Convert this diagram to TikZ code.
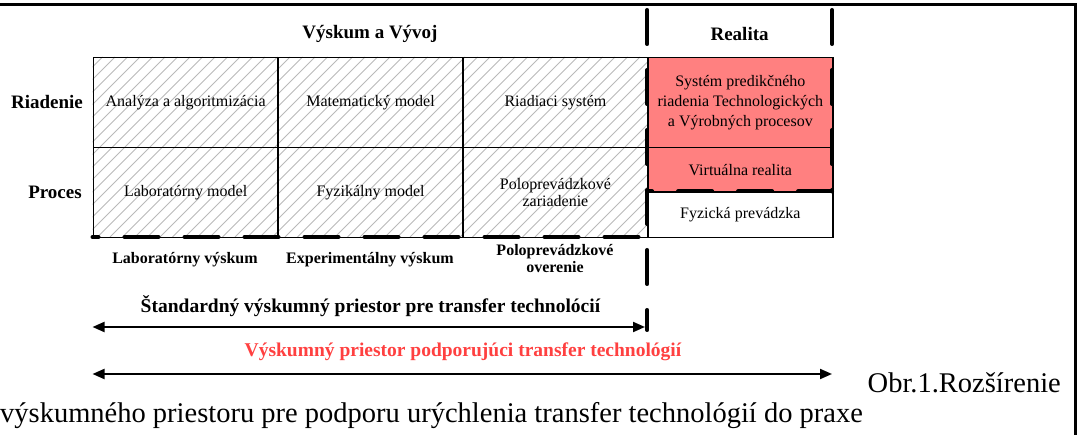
\documentclass[tikz,border=0pt]{standalone}
\usepackage{fontspec}
\setmainfont{Liberation Serif}
\usetikzlibrary{arrows.meta}
\definecolor{pinkfill}{RGB}{255,128,128}
\definecolor{redtxt}{RGB}{255,64,64}
\definecolor{hatchgray}{RGB}{185,185,185}
\begin{document}
\begin{tikzpicture}[x=1pt,y=-1pt,
  cellbox/.style={draw=black, line width=1.4pt, anchor=north west, inner sep=0pt, minimum width=184.9pt},
  celltext/.style={font=\fontsize{16}{20}\selectfont, align=center, inner sep=0pt},
  head/.style={font=\bfseries\fontsize{19}{22}\selectfont, inner sep=0pt},
  sublabel/.style={font=\bfseries\fontsize{16}{17}\selectfont, inner sep=0pt, align=center},
  bigdash/.style={line width=4pt, line cap=round, dash pattern=on 34pt off 26pt},
  spanarrow/.style={line width=2pt, {Triangle[length=12pt,width=10pt]}-{Triangle[length=12pt,width=10pt]}},
  caption/.style={font=\fontsize{28.5}{30}\selectfont, inner sep=0pt}
]
\useasboundingbox (0,0) rectangle (1079,435);
% frame
\draw[line width=3pt] (0,5) -- (1075,5) -- (1075,435);
% hatching
\begin{scope}
  \clip (92.5,57) rectangle (647.2,237);
  \foreach \i in {0,...,62}
    \draw[hatchgray, line width=0.8pt] ({-90+\i*12.5},237) -- ++(180,-180);
\end{scope}
% pink area
\fill[pinkfill] (647.2,57) rectangle (832.1,191.5);
% cells
\node[cellbox, minimum height=90pt] (c11) at (92.5,57) {};
\node[cellbox, minimum height=90pt] (c12) at (277.4,57) {};
\node[cellbox, minimum height=90pt] (c13) at (462.3,57) {};
\node[cellbox, minimum height=90pt] (c14) at (647.2,57) {};
\node[cellbox, minimum height=90pt] (c21) at (92.5,147) {};
\node[cellbox, minimum height=90pt] (c22) at (277.4,147) {};
\node[cellbox, minimum height=90pt] (c23) at (462.3,147) {};
\node[cellbox, minimum height=44.5pt] (c24) at (647.2,147) {};
\node[cellbox, minimum height=45.5pt] (c34) at (647.2,191.5) {};
% cell texts
\node[celltext] (t11) at (c11.center) {Analýza a algoritmizácia};
\node[celltext] (t12) at (c12.center) {Matematický model};
\node[celltext] (t13) at (c13.center) {Riadiaci systém};
\node[celltext] (t14) at (c14.center) {Systém predikčného\\riadenia Technologických\\a Výrobných procesov};
\node[celltext] (t21) at (c21.center) {Laboratórny model};
\node[celltext] (t22) at (c22.center) {Fyzikálny model};
\node[celltext, font=\fontsize{16}{17}\selectfont] (t23) at (c23.center) {Poloprevádzkové\\zariadenie};
\node[celltext] (t24) at (c24.center) {Virtuálna realita};
\node[celltext] (t34) at (c34.center) {Fyzická prevádzka};
% headers
\node[head] (hVV) at (370,34) {Výskum a Vývoj};
\node[head] (hR) at (739.6,34) {Realita};
\node[head] (rR) at (47,102) {Riadenie};
\node[head] (rP) at (55,192) {Proces};
% bottom labels
\node[sublabel] (bL) at (185,260) {Laboratórny výskum};
\node[sublabel] (bE) at (370,260) {Experimentálny výskum};
\node[sublabel] (bP) at (555,259) {Poloprevádzkové\\overenie};
% thick dashed borders
\coordinate (dA) at (647.2,10);
\coordinate (dB) at (647.2,330);
\coordinate (dC) at (832.1,10);
\coordinate (dD) at (832.1,191.5);
\coordinate (dE) at (647.2,191.5);
\coordinate (dF) at (647.2,237);
\coordinate (dG) at (92.5,237);
\draw[bigdash] (dA) -- (dB);
\draw[bigdash] (dC) -- (dD);
\draw[bigdash] (dD) -- (dE);
\draw[bigdash, dash phase=28pt] (dG) -- (dF);
% span texts and arrows
\node[font=\bfseries\fontsize{19.5}{22}\selectfont, inner sep=0pt] (sT) at (370.5,306) {Štandardný výskumný priestor pre transfer technolócií};
\node[font=\bfseries\fontsize{19.5}{22}\selectfont, inner sep=0pt, text=redtxt] (rT) at (463,352) {Výskumný priestor podporujúci transfer technológií};
\coordinate (a1L) at (92.5,327);
\coordinate (a1R) at (645,327);
\coordinate (a2L) at (92.5,374);
\coordinate (a2R) at (832,374);
\draw[spanarrow] (a1L) -- (a1R);
\draw[spanarrow] (a2L) -- (a2R);
% caption
\node[caption, anchor=base east] (cap1) at (1061,393) {Obr.1.Rozšírenie};
\node[caption, anchor=base west] (cap2) at (0,423) {výskumného priestoru pre podporu urýchlenia transfer technológií do praxe};
\end{tikzpicture}
\end{document}
